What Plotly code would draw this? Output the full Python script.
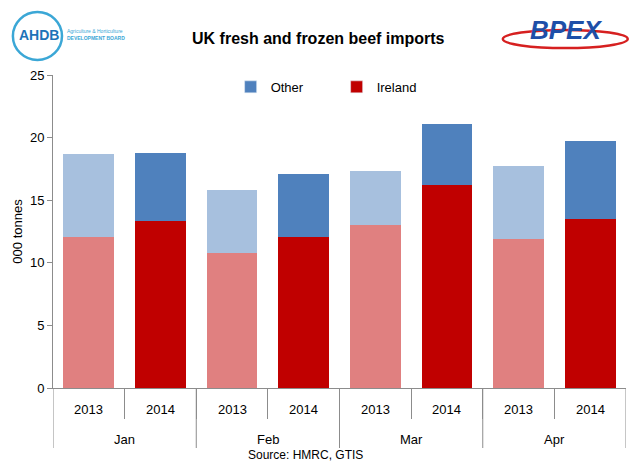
import plotly.graph_objects as go

months = ["Jan", "Jan", "Feb", "Feb", "Mar", "Mar", "Apr", "Apr"]
years = ["2013", "2014", "2013", "2014", "2013", "2014", "2013", "2014"]
ireland = [12.1, 13.3, 10.8, 12.1, 13.0, 16.2, 11.9, 13.5]
other = [6.6, 5.5, 5.0, 5.0, 4.3, 4.9, 5.8, 6.2]

ire_colors = ["#E08080" if y == "2013" else "#C00000" for y in years]
oth_colors = ["#A7C0DE" if y == "2013" else "#4F81BD" for y in years]

FONT = "Liberation Sans"
AXC = "#8C8C8C"
n = len(years)
xs = list(range(n))
plot_w = 629 - 53 - 3
plot_h = 464 - 75 - 76

fig = go.Figure()
fig.add_trace(go.Bar(x=xs, y=ireland, name="Ireland",
                     marker=dict(color=ire_colors, line=dict(width=0)),
                     showlegend=False, hoverinfo="y"))
fig.add_trace(go.Bar(x=xs, y=other, name="Other",
                     marker=dict(color=oth_colors, line=dict(width=0)),
                     showlegend=False, hoverinfo="y"))
# legend entries
fig.add_trace(go.Bar(x=[None], y=[None], name="Other", marker_color="#4F81BD"))
fig.add_trace(go.Bar(x=[None], y=[None], name="Ireland", marker_color="#C00000"))

fig.update_layout(
    width=629, height=464,
    barmode="stack", bargap=0.29,
    paper_bgcolor="white", plot_bgcolor="white",
    margin=dict(l=53, r=3, t=75, b=76),
    font=dict(family=FONT, size=13, color="#000000"),
    title=dict(text="<b>UK fresh and frozen beef imports</b>", x=0.506, xanchor="center",
               y=0.918, yanchor="middle", font=dict(size=16, family=FONT)),
    legend=dict(orientation="h", x=0.31, y=0.962, xanchor="left", yanchor="middle",
                font=dict(size=13), itemwidth=30, entrywidth=61, entrywidthmode="pixels",
                traceorder="normal", bgcolor="rgba(0,0,0,0)"),
    yaxis=dict(range=[0, 25], dtick=5, showgrid=False, zeroline=False,
               showline=True, linecolor=AXC, linewidth=1,
               ticks="outside", ticklen=5, tickcolor=AXC,
               title=dict(text="000 tonnes", font=dict(size=13), standoff=4),
               tickfont=dict(size=13)),
    xaxis=dict(range=[-0.5, n - 0.5], showgrid=False, zeroline=False,
               showline=True, linecolor=AXC, linewidth=1,
               tickmode="array", tickvals=[i + 0.5 for i in range(n - 1)],
               ticktext=[""] * (n - 1),
               ticks="outside", ticklen=30, tickcolor=AXC),
)

# year labels
for i, yr in enumerate(years):
    fig.add_annotation(text=yr, x=i, xref="x", y=0, yref="paper", yshift=-21,
                       showarrow=False, xanchor="center", yanchor="middle",
                       font=dict(size=13))

# month group labels and dividers
groups = []
for i, m in enumerate(months):
    if not groups or groups[-1][0] != m:
        groups.append([m, i, i])
    else:
        groups[-1][2] = i
bounds = set()
for m, a, b in groups:
    fig.add_annotation(text=m, x=(a + b) / 2, xref="x", y=0, yref="paper", yshift=-51,
                       showarrow=False, xanchor="center", yanchor="middle",
                       font=dict(size=13))
    bounds.add(a - 0.5)
    bounds.add(b + 0.5)
for bx in sorted(bounds):
    fig.add_shape(type="line", xref="x", yref="paper", x0=bx, x1=bx,
                  y0=0, y1=-60 / plot_h, line=dict(color=AXC, width=1))

# source annotation
fig.add_annotation(text="Source: HMRC, GTIS", xref="paper", yref="paper",
                   x=(305 - 53) / plot_w, y=-67 / plot_h, showarrow=False,
                   xanchor="center", yanchor="middle",
                   font=dict(size=12, family=FONT))

# AHDB logo approximation
fig.add_shape(type="circle", xref="paper", yref="paper",
              x0=-0.070, x1=0.0157, y0=1.048, y1=1.201,
              line=dict(color="#3BA7D6", width=2.5))
fig.add_annotation(text="<b>AHDB</b>", xref="paper", yref="paper", x=-0.024, y=1.128,
                   showarrow=False, xanchor="center", yanchor="middle",
                   font=dict(size=14, color="#1E73B8", family=FONT))
fig.add_annotation(text="Agriculture &amp; Horticulture<br><b>DEVELOPMENT BOARD</b>",
                   xref="paper", yref="paper",
                   x=0.021, y=1.128, xanchor="left", yanchor="middle", showarrow=False,
                   align="left", font=dict(size=5, color="#3BA7D6", family=FONT))
# BPEX logo approximation
fig.add_shape(type="circle", xref="paper", yref="paper",
              x0=0.785, x1=1.003, y0=1.086, y1=1.144,
              line=dict(color="#D62020", width=2.5))
fig.add_annotation(text="<b><i>BPEX</i></b>", xref="paper", yref="paper", x=0.895, y=1.144,
                   showarrow=False, xanchor="center", yanchor="middle",
                   font=dict(size=26, color="#1E4FA8", family=FONT))

fig.write_html("out.html")
